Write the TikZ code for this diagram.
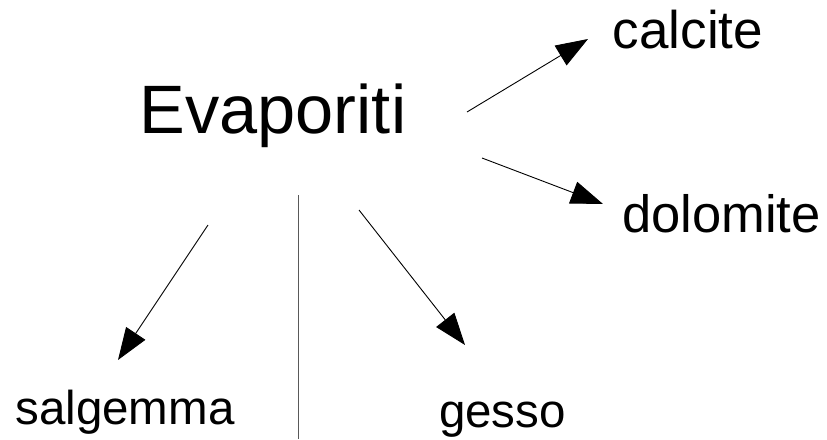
\documentclass[tikz,border=0pt]{standalone}
\usepackage{fontspec}
\setmainfont{Liberation Sans}
\usetikzlibrary{arrows.meta}

\begin{document}
\begin{tikzpicture}[x = 1pt, y = -1pt,
                freccia/.style = {black, line width = 0.9pt, -{Triangle[length = 32pt, width = 23pt]}},
                parola/.style = {inner sep = 0pt, anchor = base}]
                \useasboundingbox (0,0) rectangle (827,439);
                \node[parola, font = \fontsize{68.5}{68.5}\selectfont] (evap) at (273,133) {Evaporiti};
                \node[parola, font = \fontsize{53}{53}\selectfont] (calc) at (688,48) {calcite};
                \node[parola, font = \fontsize{52.5}{52.5}\selectfont] (dolo) at (721.5,232) {dolomite};
                \node[parola, font = \fontsize{47.5}{47.5}\selectfont] (salg) at (125,424) {salgemma};
                \node[parola, font = \fontsize{47.5}{47.5}\selectfont] (gess) at (502.5,427) {gesso};
                \coordinate (da1) at (467,112);
                \coordinate (a1) at (588,39);
                \coordinate (da2) at (482,158);
                \coordinate (a2) at (603,204);
                \coordinate (da3) at (208,225);
                \coordinate (a3) at (118,360);
                \coordinate (da4) at (359,210);
                \coordinate (a4) at (465,345);
                \coordinate (su) at (298,195);
                \coordinate (giu) at (298,439);
                \draw[freccia] (da1) -- (a1);
                \draw[freccia] (da2) -- (a2);
                \draw[freccia] (da3) -- (a3);
                \draw[freccia] (da4) -- (a4);
                \draw[black!65, line width = 1pt] (su) -- (giu);
            \end{tikzpicture}
\end{document}
